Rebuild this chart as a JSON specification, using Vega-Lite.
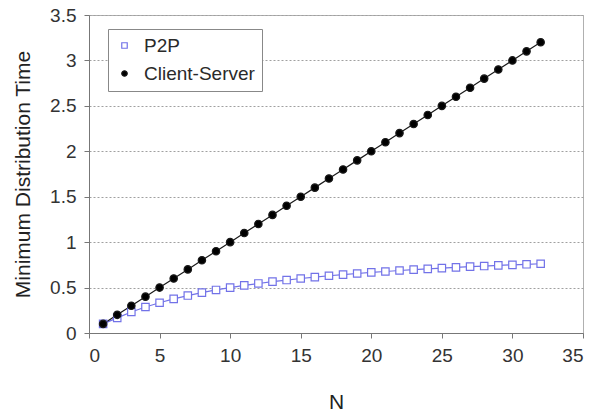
{
  "$schema": "https://vega.github.io/schema/vega-lite/v6.json",
  "width": 494,
  "height": 318,
  "autosize": {"type": "none"},
  "padding": {"left": 89, "top": 15, "right": 23, "bottom": 85},
  "background": "white",
  "config": {
    "font": "Liberation Sans",
    "view": {"stroke": "#b0b0b0", "strokeWidth": 1},
    "axis": {
      "labelFont": "Liberation Sans",
      "titleFont": "Liberation Sans",
      "labelFontSize": 19,
      "labelColor": "#333333",
      "titleColor": "#222222",
      "titleFontWeight": "normal",
      "titleFontSize": 21,
      "domainColor": "#777777",
      "tickColor": "#777777",
      "tickSize": 5,
      "gridColor": "#a0a0a0",
      "gridDash": [2, 2]
    }
  },
  "data": {
    "values": [
      {"N": 1, "series": "P2P", "t": 0.10},
      {"N": 2, "series": "P2P", "t": 0.167},
      {"N": 3, "series": "P2P", "t": 0.231},
      {"N": 4, "series": "P2P", "t": 0.286},
      {"N": 5, "series": "P2P", "t": 0.333},
      {"N": 6, "series": "P2P", "t": 0.375},
      {"N": 7, "series": "P2P", "t": 0.412},
      {"N": 8, "series": "P2P", "t": 0.444},
      {"N": 9, "series": "P2P", "t": 0.474},
      {"N": 10, "series": "P2P", "t": 0.5},
      {"N": 11, "series": "P2P", "t": 0.524},
      {"N": 12, "series": "P2P", "t": 0.545},
      {"N": 13, "series": "P2P", "t": 0.565},
      {"N": 14, "series": "P2P", "t": 0.583},
      {"N": 15, "series": "P2P", "t": 0.6},
      {"N": 16, "series": "P2P", "t": 0.615},
      {"N": 17, "series": "P2P", "t": 0.63},
      {"N": 18, "series": "P2P", "t": 0.643},
      {"N": 19, "series": "P2P", "t": 0.655},
      {"N": 20, "series": "P2P", "t": 0.667},
      {"N": 21, "series": "P2P", "t": 0.677},
      {"N": 22, "series": "P2P", "t": 0.688},
      {"N": 23, "series": "P2P", "t": 0.697},
      {"N": 24, "series": "P2P", "t": 0.706},
      {"N": 25, "series": "P2P", "t": 0.714},
      {"N": 26, "series": "P2P", "t": 0.722},
      {"N": 27, "series": "P2P", "t": 0.73},
      {"N": 28, "series": "P2P", "t": 0.737},
      {"N": 29, "series": "P2P", "t": 0.744},
      {"N": 30, "series": "P2P", "t": 0.75},
      {"N": 31, "series": "P2P", "t": 0.756},
      {"N": 32, "series": "P2P", "t": 0.762},
      {"N": 1, "series": "Client-Server", "t": 0.1},
      {"N": 2, "series": "Client-Server", "t": 0.2},
      {"N": 3, "series": "Client-Server", "t": 0.3},
      {"N": 4, "series": "Client-Server", "t": 0.4},
      {"N": 5, "series": "Client-Server", "t": 0.5},
      {"N": 6, "series": "Client-Server", "t": 0.6},
      {"N": 7, "series": "Client-Server", "t": 0.7},
      {"N": 8, "series": "Client-Server", "t": 0.8},
      {"N": 9, "series": "Client-Server", "t": 0.9},
      {"N": 10, "series": "Client-Server", "t": 1.0},
      {"N": 11, "series": "Client-Server", "t": 1.1},
      {"N": 12, "series": "Client-Server", "t": 1.2},
      {"N": 13, "series": "Client-Server", "t": 1.3},
      {"N": 14, "series": "Client-Server", "t": 1.4},
      {"N": 15, "series": "Client-Server", "t": 1.5},
      {"N": 16, "series": "Client-Server", "t": 1.6},
      {"N": 17, "series": "Client-Server", "t": 1.7},
      {"N": 18, "series": "Client-Server", "t": 1.8},
      {"N": 19, "series": "Client-Server", "t": 1.9},
      {"N": 20, "series": "Client-Server", "t": 2.0},
      {"N": 21, "series": "Client-Server", "t": 2.1},
      {"N": 22, "series": "Client-Server", "t": 2.2},
      {"N": 23, "series": "Client-Server", "t": 2.3},
      {"N": 24, "series": "Client-Server", "t": 2.4},
      {"N": 25, "series": "Client-Server", "t": 2.5},
      {"N": 26, "series": "Client-Server", "t": 2.6},
      {"N": 27, "series": "Client-Server", "t": 2.7},
      {"N": 28, "series": "Client-Server", "t": 2.8},
      {"N": 29, "series": "Client-Server", "t": 2.9},
      {"N": 30, "series": "Client-Server", "t": 3.0},
      {"N": 31, "series": "Client-Server", "t": 3.1},
      {"N": 32, "series": "Client-Server", "t": 3.2}
    ]
  },
  "encoding": {
    "x": {
      "field": "N", "type": "quantitative",
      "scale": {"domain": [0, 35], "nice": false},
      "axis": {"values": [0, 5, 10, 15, 20, 25, 30, 35], "grid": false, "title": "N", "titlePadding": 26, "labelPadding": 8}
    },
    "y": {
      "field": "t", "type": "quantitative",
      "scale": {"domain": [0, 3.5], "nice": false},
      "axis": {"values": [0, 0.5, 1, 1.5, 2, 2.5, 3, 3.5], "format": "~g", "grid": true, "title": "Minimum Distribution Time", "titlePadding": 16, "labelPadding": 8}
    },
    "color": {
      "field": "series", "type": "nominal",
      "scale": {"domain": ["P2P", "Client-Server"], "range": ["#7272e8", "#1a1a1a"]},
      "legend": {
        "title": null, "orient": "none", "legendX": 19, "legendY": 14,
        "labelFontSize": 19, "labelFont": "Liberation Sans", "labelColor": "#2a2a2a",
        "strokeColor": "#888888", "fillColor": "white", "padding": 7,
        "symbolSize": 30, "rowPadding": 8, "labelOffset": 10, "symbolStrokeWidth": 1.2
      }
    }
  },
  "layer": [
    {
      "mark": {"type": "line", "strokeWidth": 1.2}
    },
    {
      "mark": {"type": "point", "filled": false, "strokeWidth": 1.2, "opacity": 1, "size": 55},
      "encoding": {
        "shape": {
          "field": "series", "type": "nominal",
          "scale": {"domain": ["P2P", "Client-Server"], "range": ["square", "circle"]}
        },
        "fill": {
          "field": "series", "type": "nominal",
          "scale": {"domain": ["P2P", "Client-Server"], "range": ["#ffffff", "#000000"]}
        }
      }
    }
  ]
}
